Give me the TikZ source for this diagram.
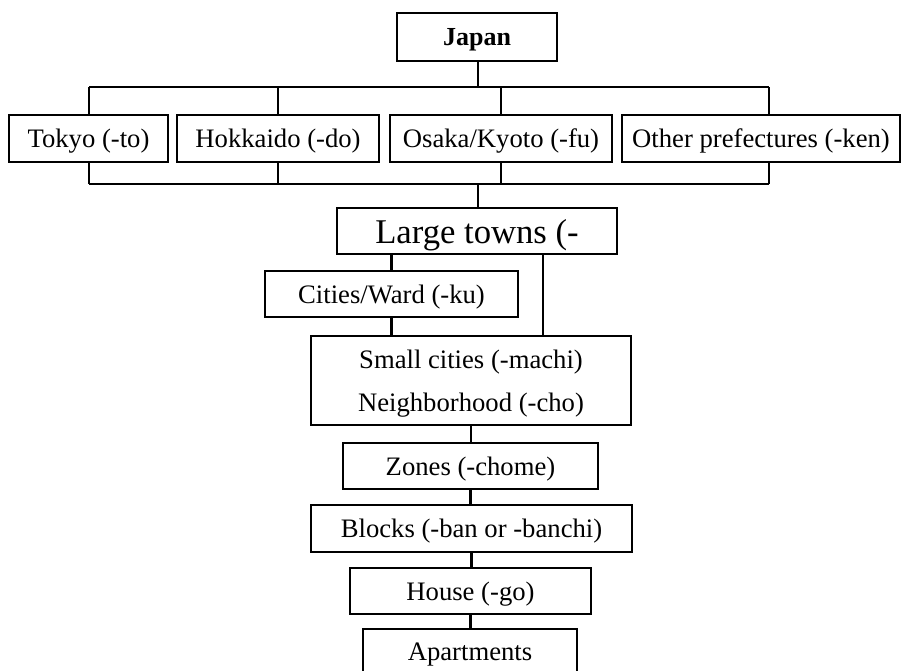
\documentclass[tikz,border=0pt]{standalone}
\usepackage{fontspec}
\setmainfont{Liberation Serif}
\begin{document}
\begin{tikzpicture}[x=0.75pt,y=-0.75pt,
  box/.style={draw=black,line width=1.9pt,rectangle,inner sep=0pt,text depth=0pt,font=\fontsize{20}{24}\selectfont},
  sz/.style 2 args={minimum width=#1*0.75pt,minimum height=#2*0.75pt},
  thin/.style={line width=0.8pt},
  conn/.style={line width=1.6pt}]
\useasboundingbox[fill=white] (0,0) rectangle (903,671);
% nodes
\node[box,sz={160}{48},font=\fontsize{19.5}{24}\selectfont\bfseries] (japan) at (477,37) {Japan};
\node[box,sz={159}{47}] (tokyo) at (88.5,138.5) {Tokyo (-to)};
\node[box,sz={202}{47}] (hokkaido) at (278,138.5) {Hokkaido (-do)};
\node[box,sz={222}{47}] (osaka) at (501,138.5) {Osaka/Kyoto (-fu)};
\node[box,sz={278}{47}] (other) at (761,138.5) {Other prefectures (-ken)};
\node[box,sz={280}{46},font=\fontsize{26}{30}\selectfont] (large) at (477,231) {Large towns (-};
\node[box,sz={253}{46}] (cities) at (391.5,294) {Cities/Ward (-ku)};
\node[box,sz={320}{89},align=center,font=\fontsize{20}{32}\selectfont] (small) at (471,380.5) {Small cities (-machi)\\Neighborhood (-cho)};
\node[box,sz={255}{46}] (zones) at (470.5,466) {Zones (-chome)};
\node[box,sz={321}{47}] (blocks) at (471.5,528.5) {Blocks (-ban or -banchi)};
\node[box,sz={241}{46}] (house) at (470.5,591) {House (-go)};
\node[box,sz={214}{46}] (apart) at (470,652) {Apartments};
% coordinates for bus lines
\coordinate (t0) at (478,87);
\coordinate (t1) at (89,87);
\coordinate (t4) at (769,87);
\coordinate (b0) at (478,184);
\coordinate (b1) at (89,184);
\coordinate (b4) at (769,184);
\coordinate (rl) at (543,0);
% top bus
\draw[thin] (japan.south -| t0) -- (t0);
\draw[thin] (t1) -- (t4);
\draw[thin] (t1) -- (t1 |- tokyo.north);
\draw[thin] (hokkaido.north |- t1) -- (hokkaido.north);
\draw[thin] (osaka.north |- t1) -- (osaka.north);
\draw[thin] (t4) -- (t4 |- other.north);
% bottom bus
\draw[thin] (b1) -- (b4);
\draw[thin] (b1 |- tokyo.south) -- (b1);
\draw[thin] (hokkaido.south) -- (hokkaido.south |- b1);
\draw[thin] (osaka.south) -- (osaka.south |- b1);
\draw[thin] (b4 |- other.south) -- (b4);
\draw[thin] (b0) -- (large.north -| b0);
% lower chain
\draw[conn] (cities.north |- large.south) -- (cities.north);
\draw[conn] (large.south -| rl) -- (small.north -| rl);
\draw[conn] (cities.south) -- (cities.south |- small.north);
\draw[conn] (small.south) -- (small.south |- zones.north);
\draw[conn] (zones.south) -- (zones.south |- blocks.north);
\draw[conn] (blocks.south) -- (blocks.south |- house.north);
\draw[conn] (house.south) -- (house.south |- apart.north);
\end{tikzpicture}
\end{document}
